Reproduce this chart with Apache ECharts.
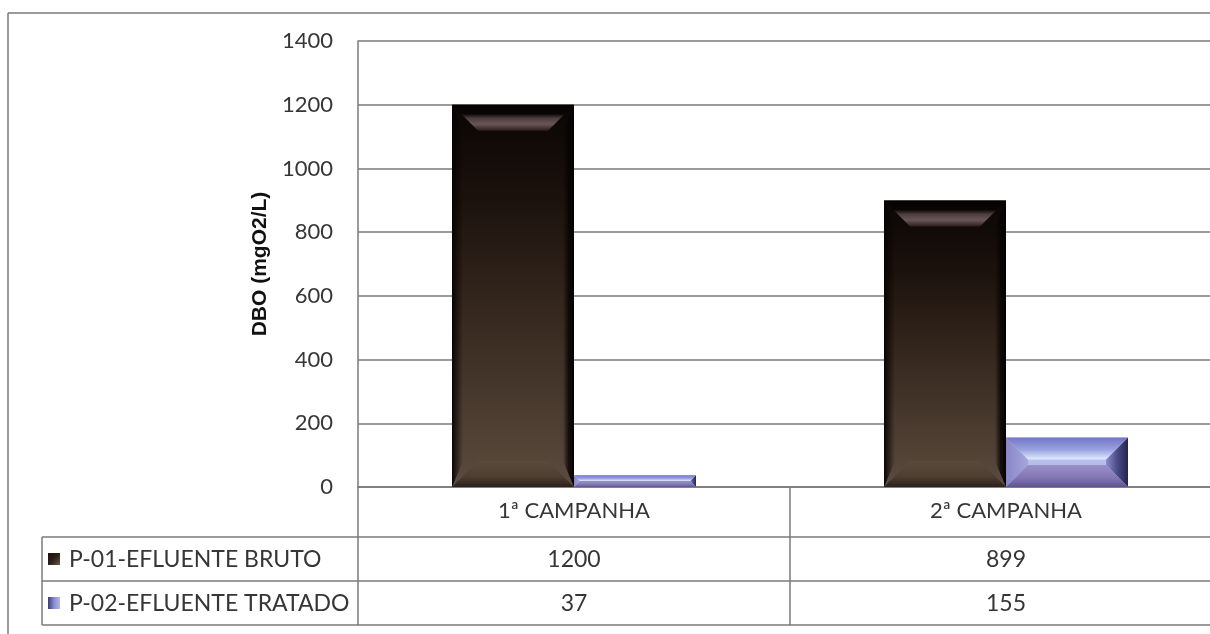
<!DOCTYPE html>
<html>
<head>
<meta charset="utf-8">
<script src="https://cdn.jsdelivr.net/npm/echarts@6/dist/echarts.min.js"></script>
<style>
  html, body { margin: 0; padding: 0; background: #ffffff; }
  #chart { width: 1210px; height: 634px; }
</style>
</head>
<body>
<div id="chart"></div>
<script>
// DBO per sampling campaign
const campanhas = ['1ª CAMPANHA', '2ª CAMPANHA'];
const seriesNames = ['P-01-EFLUENTE BRUTO', 'P-02-EFLUENTE TRATADO'];
const bruto = [1200, 899];
const tratado = [37, 155];
const yMin = 0;
const yMax = 1400;
const yStep = 200;
const yTitle = 'DBO (mgO2/L)';

const FONT = 'Lato, "Open Sans", sans-serif';
const TITLE_FONT = '"Liberation Sans", Arial, sans-serif';
const TEXT = '#363636';
const LINE = '#7a7a7a';
const BAR_FRAC = 0.2824;   // bar width as a share of one campaign band

// the second campaign band runs slightly past the right edge of the page
const GRID = { left: 358, top: 41, right: 0, height: 446 };
const X_MIN = -0.5;
const X_MAX = -0.5 + 852 / 432;
const TABLE = { left: 42, row1: 537, row2: 581, bottom: 625 };

function lg(x1, y1, x2, y2, stops) {
  return new echarts.graphic.LinearGradient(x1, y1, x2, y2,
    stops.map(s => ({ offset: s[0], color: s[1] })));
}

const palettes = [
  { // dark brown bevelled bar
    depth: 26, side: 11,
    inner: lg(0, 0, 0, 1, [[0, '#0a0504'], [0.25, '#1c120d'], [0.6, '#3a2c22'], [1, '#5c4b3e']]),
    top: lg(0, 0, 0, 1, [[0, '#050202'], [0.35, '#0a0505'], [0.52, '#4e3c3e'], [0.75, '#6a5658'], [1, '#2a1c18']]),
    bottom: lg(0, 0, 0, 1, [[0, '#5a4a3c'], [0.6, '#4e3e32'], [1, '#2c2018']]),
    left: lg(0, 0, 1, 0, [[0, 'rgba(6,3,2,0.95)'], [1, 'rgba(6,3,2,0)']]),
    right: lg(1, 0, 0, 0, [[0, 'rgba(3,1,1,1)'], [0.5, 'rgba(6,3,2,0.8)'], [1, 'rgba(6,3,2,0)']])
  },
  { // lavender bevelled bar
    depth: 22, side: 22,
    inner: lg(0, 0, 0, 1, [[0, '#c6d0f4'], [1, '#a8acde']]),
    top: lg(0, 0, 0, 1, [[0, '#7476c4'], [0.55, '#9aa2e0'], [1, '#e2ecff']]),
    bottom: lg(0, 0, 0, 1, [[0, '#9890c8'], [0.6, '#8276b2'], [1, '#5e5490']]),
    left: lg(0, 0, 1, 0, [[0, '#8a86c8'], [1, '#a4a6dc']]),
    right: lg(1, 0, 0, 0, [[0, '#24244e'], [0.5, '#4c4c88'], [1, '#8c8ccc']])
  }
];

function bevelRender(slot) {
  const p = palettes[slot];
  return function (params, api) {
    const cat = api.value(0);
    const val = api.value(1);
    const topPt = api.coord([cat, val]);
    const basePt = api.coord([cat, 0]);
    const bw = api.size([1, 0])[0] * BAR_FRAC;
    const x = slot === 0 ? topPt[0] - bw : topPt[0];
    const y = topPt[1];
    const w = bw;
    const h = basePt[1] - topPt[1];
    const d = Math.min(p.depth, h / 2, w / 2);
    const s = Math.min(p.side, h / 2, w / 2);
    const poly = (pts, fill) => ({ type: 'polygon', shape: { points: pts }, style: { fill: fill } });
    return {
      type: 'group',
      children: [
        { type: 'rect', shape: { x: x, y: y, width: w, height: h }, style: { fill: p.inner } },
        poly([[x, y], [x + s, y + d], [x + s, y + h - d], [x, y + h]], p.left),
        poly([[x + w, y], [x + w - s, y + d], [x + w - s, y + h - d], [x + w, y + h]], p.right),
        poly([[x, y], [x + w, y], [x + w - d, y + d], [x + d, y + d]], p.top),
        poly([[x, y + h], [x + w, y + h], [x + w - d, y + h - d], [x + d, y + h - d]], p.bottom)
      ]
    };
  };
}

const chart = echarts.init(document.getElementById('chart'), null, { renderer: 'canvas' });

const seriesData = [bruto, tratado];
const campIdx = campanhas.map((c, k) => k);

chart.setOption({
  backgroundColor: '#ffffff',
  animation: false,
  grid: { left: GRID.left, top: GRID.top, right: GRID.right, height: GRID.height, containLabel: false },
  xAxis: {
    type: 'value',
    min: X_MIN, max: X_MAX,
    axisLine: { show: true, onZero: false, lineStyle: { color: LINE, width: 1.5 } },
    axisTick: { show: false },
    axisLabel: {
      customValues: campIdx,
      formatter: v => campanhas[Math.round(v)] || '',
      color: TEXT, fontFamily: FONT, fontSize: 22, margin: 13,
      showMinLabel: true, showMaxLabel: true
    },
    splitLine: { show: false }
  },
  yAxis: {
    type: 'value',
    min: yMin, max: yMax, interval: yStep,
    name: yTitle,
    nameLocation: 'middle',
    nameGap: 71,
    nameTextStyle: { color: '#111111', fontFamily: TITLE_FONT, fontSize: 21, fontWeight: 'bold' },
    axisLine: { show: true, onZero: false, lineStyle: { color: LINE, width: 1.5 } },
    axisTick: { show: false },
    axisLabel: { color: TEXT, fontFamily: FONT, fontSize: 22, margin: 25, formatter: v => String(v) },
    splitLine: { show: true, lineStyle: { color: LINE, width: 1.5 } }
  },
  series: seriesData.map((vals, i) => ({
    type: 'custom',
    name: seriesNames[i],
    renderItem: bevelRender(i),
    encode: { x: 0, y: 1 },
    data: vals.map((v, k) => [k, v]),
    clip: false,
    z: 3
  }))
});

// data table under the plot
function hline(x1, x2, y) {
  return { type: 'line', shape: { x1: x1, y1: y, x2: x2, y2: y }, style: { stroke: LINE, lineWidth: 1.5 }, silent: true };
}
function vline(x, y1, y2) {
  return { type: 'line', shape: { x1: x, y1: y1, x2: x, y2: y2 }, style: { stroke: LINE, lineWidth: 1.5 }, silent: true };
}
function label(text, x, y, align) {
  return {
    type: 'text', silent: true,
    style: { text: text, x: x, y: y, align: align || 'center', verticalAlign: 'middle',
      font: '23px ' + FONT, fill: TEXT }
  };
}

const pageRight = 1210;
const plotBottom = GRID.top + GRID.height;
const els = [
  // outer frame
  hline(8, pageRight, 13),
  vline(8, 13, 634),
  // table frame
  hline(TABLE.left, pageRight, TABLE.row1),
  hline(TABLE.left, pageRight, TABLE.row2),
  hline(TABLE.left, pageRight, TABLE.bottom),
  vline(TABLE.left, TABLE.row1, TABLE.bottom),
  vline(GRID.left, plotBottom, TABLE.bottom)
];

// column dividers between campaigns
for (let k = 1; k < campanhas.length; k++) {
  const xDiv = chart.convertToPixel({ xAxisIndex: 0 }, k - 0.5);
  els.push(vline(xDiv, plotBottom, TABLE.bottom));
}

const rowCenters = [(TABLE.row1 + TABLE.row2) / 2, (TABLE.row2 + TABLE.bottom) / 2];
const iconFills = [
  lg(0, 0, 1, 1, [[0, '#1a100c'], [0.5, '#2c2018'], [1, '#6a5a4c']]),
  lg(0, 0, 1, 0, [[0, '#3a3a78'], [0.5, '#8a8cd0'], [1, '#b4b8ea']])
];
seriesData.forEach((vals, i) => {
  const cy = rowCenters[i];
  els.push({ type: 'rect', silent: true, shape: { x: 48, y: cy - 6, width: 12, height: 12 }, style: { fill: iconFills[i] } });
  els.push(label(seriesNames[i], 69, cy + 1, 'left'));
  vals.forEach((v, k) => {
    const cx = chart.convertToPixel({ xAxisIndex: 0 }, k);
    els.push(label(String(v), cx, cy + 1));
  });
});

chart.setOption({ graphic: { elements: els } });
</script>
</body>
</html>
